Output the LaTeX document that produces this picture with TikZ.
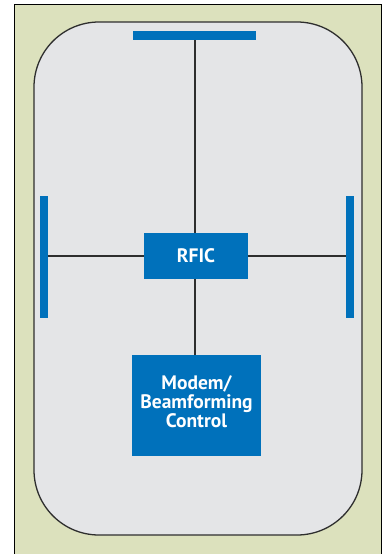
\documentclass[tikz,border=0pt]{standalone}
\usepackage{fontspec}
\setmainfont{PT Sans}
\usepackage{tikz}
\usetikzlibrary{positioning}
\definecolor{boardgreen}{HTML}{DCE1BD}
\definecolor{casegray}{HTML}{E4E5E7}
\definecolor{chipblue}{HTML}{0071BB}
\definecolor{wiregray}{HTML}{2E2E2E}

\begin{document}
\begin{tikzpicture}[x=1pt, y=-1pt,
    antenna/.style={fill=chipblue, inner sep=0pt},
    chip/.style={fill=chipblue, text=white, inner sep=0pt, align=center,
      font=\bfseries\fontsize{19.5}{19}\selectfont},
    wire/.style={draw=wiregray, line width=1.2pt}]
  \useasboundingbox (0,0) rectangle (386,554);
  % board and phone case
  \fill[boardgreen] (14,4) rectangle (381,560);
  \draw[black, line width=1pt] (14,560) -- (14,4) -- (381,4) -- (381,560);
  \draw[wiregray, line width=1.3pt, fill=casegray, rounded corners=65pt]
    (34,22) rectangle (362,535);
  % antennas
  \node[antenna, minimum width=123pt, minimum height=9pt] (topant) at (194.5,35.5) {};
  \node[antenna, minimum width=8pt, minimum height=122pt] (leftant) at (44,257) {};
  \node[antenna, minimum width=8pt, minimum height=122pt] (rightant) at (350,257) {};
  % chips
  \node[chip, minimum width=104pt, minimum height=46pt] (rfic) at (196,256) {RFIC};
  \node[chip, minimum width=129pt, minimum height=101pt] (modem) at (196.5,405.5) {};
  \node[chip, fill=none] (modemtext) at (196.5,402) {Modem/\\Beamforming\\Control};
  \draw[wire] (rfic.north -| 195,0) -- (topant.south -| 195,0);
  \draw[wire] (rfic.west) -- (leftant.east |- rfic.west);
  \draw[wire] (rfic.east) -- (rightant.west |- rfic.east);
  \draw[wire] (rfic.south -| 195,0) -- (modem.north -| 195,0);
\end{tikzpicture}
\end{document}
